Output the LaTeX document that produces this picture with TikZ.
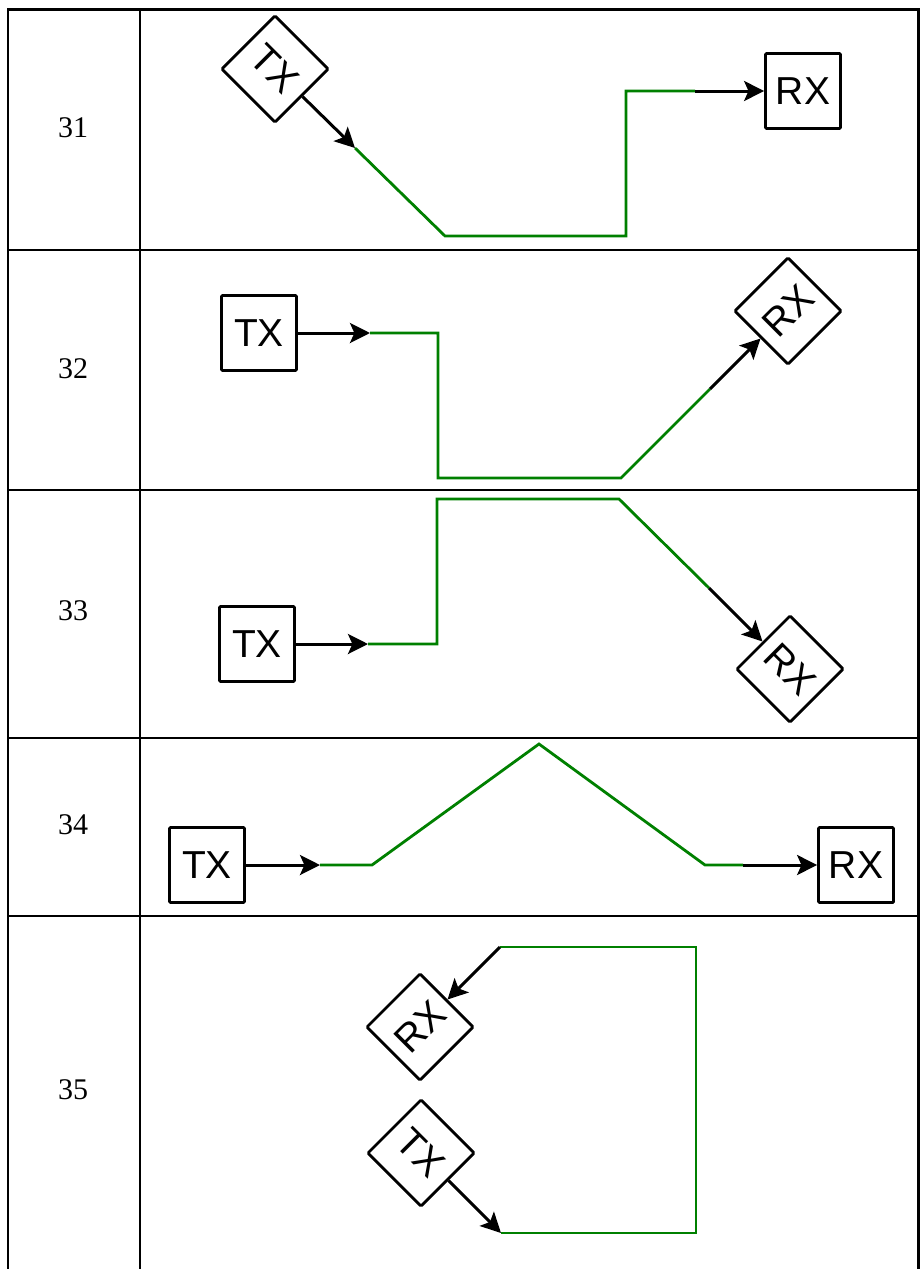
\documentclass[tikz,border=0pt]{standalone}
\usepackage{fontspec}
\setmainfont{Liberation Serif}
\newfontfamily\boxfont{Liberation Sans}
\usetikzlibrary{arrows.meta,positioning}
\definecolor{grn}{HTML}{008000}

\begin{document}
\begin{tikzpicture}[x=0.5pt, y=-0.5pt,
  box/.style={draw, line width=1.4pt, rounded corners=0.5pt, minimum size=37.5pt, inner sep=0pt, font=\boxfont\fontsize{19.5}{22}\selectfont},
  ar/.style={-{Stealth[length=10pt, width=10pt, inset=2.2pt]}, line width=1.5pt},
  ray/.style={grn, line width=1.4pt}, num/.style={font=\fontsize{15}{17}\selectfont}, rule/.style={line width=1.1pt}]
\useasboundingbox (0,0) rectangle (920,1269);
% table
\draw[rule] (8,1269) -- (8,9.5) -- (918.5,9.5) -- (918.5,1269); \draw[rule] (140,9.5) -- (140,1269);
\foreach \y in {250,490,738,916} \draw[rule] (8,\y) -- (918.5,\y);
\foreach \n/\y in {31/128,32/369,33/611,34/825,35/1090} \node[num] (n\n) at (73,\y) {\n};
% 31
\node[box, rotate=-45] (tx31) at (275,69) {TX};
\node[box] (rx31) at (803,91) {RX};
\coordinate (a31) at (355,148); \coordinate (b31) at (695,91);
\draw[ar] (tx31.east) -- (a31); \draw[ray] (a31) -- (445,236) -- (626,236) |- (b31); \draw[ar] (b31) -- (rx31.west);
% 32
\node[box] (tx32) at (259,333) {TX};
\node[box, rotate=45] (rx32) at (788,311) {RX};
\coordinate (a32) at (370,333); \coordinate (b32) at (710,389);
\draw[ar] (tx32.east) -- (a32); \draw[ray] (a32) -| (438,478) -- (621,478) -- (b32); \draw[ar] (b32) -- (rx32.west);
% 33
\node[box] (tx33) at (257,644) {TX};
\node[box, rotate=-45] (rx33) at (790,669) {RX};
\coordinate (a33) at (368,644); \coordinate (b33) at (709,588);
\draw[ar] (tx33.east) -- (a33); \draw[ray] (a33) -| (437,499) -- (619,499) -- (b33); \draw[ar] (b33) -- (rx33.west);
% 34
\node[box] (tx34) at (207,865) {TX};
\node[box] (rx34) at (856,865) {RX};
\coordinate (a34) at (320,865); \coordinate (b34) at (743,865);
\draw[ar] (tx34.east) -- (a34); \draw[ray] (a34) -- (372,865) -- (539,744) -- (705,865) -- (b34); \draw[ar] (b34) -- (rx34.west);
% 35
\node[box, rotate=45] (rx35) at (420,1027) {RX};
\node[box, rotate=-45] (tx35) at (421,1153) {TX};
\coordinate (a35) at (501,1233); \coordinate (b35) at (500,947);
\draw[ar] (tx35.east) -- (a35); \draw[ray] (a35) -| (696,947) -- (b35); \draw[ar] (b35) -- (rx35.east);
\end{tikzpicture}
\end{document}
